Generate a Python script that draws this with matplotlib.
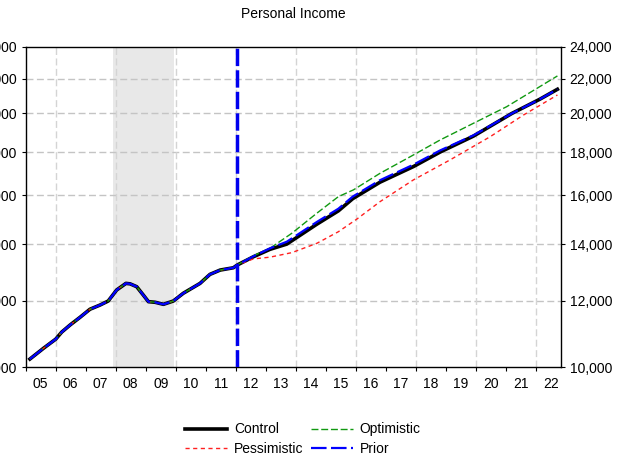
import numpy as np
import matplotlib
matplotlib.use("Agg")
from matplotlib import pyplot as plt
from matplotlib.ticker import FixedLocator, FuncFormatter, NullFormatter

plt.rcParams['font.family'] = ['Liberation Sans Narrow', 'Liberation Sans', 'DejaVu Sans']
plt.rcParams['font.size'] = 10

# history shared by all four series (decimal years, billions)
hist_t = [2005.14, 2005.59, 2006.0, 2006.2, 2006.48, 2006.81, 2007.14, 2007.48, 2007.75,
          2008.03, 2008.34, 2008.48, 2008.7, 2008.92, 2009.09, 2009.31, 2009.59, 2009.92,
          2010.25, 2010.81, 2011.14, 2011.48, 2011.92, 2012.05]
hist_v = [10229, 10532, 10800, 11010, 11226, 11463, 11718, 11855, 11985,
          12350, 12576, 12560, 12462, 12180, 11963, 11944, 11877, 11985,
          12240, 12576, 12889, 13042, 13124, 13223]

# forecasts from 2012
control_t = [2012.59, 2013.14, 2013.7, 2014.7, 2015.42, 2015.9, 2016.81, 2017.92, 2018.81,
             2019.92, 2021.2, 2022.14, 2022.72]
control_v = [13525, 13801, 14000, 14780, 15330, 15850, 16580, 17300, 18000,
             18800, 20000, 20800, 21366]

prior_t = control_t
prior_v = [13540, 13840, 14090, 14870, 15420, 15940, 16670, 17390, 18080,
           18840, 20000, 20800, 21366]

optim_t = [2012.59, 2013.14, 2013.87, 2014.7, 2015.42, 2015.92, 2016.81, 2017.92, 2018.81,
           2019.92, 2021.03, 2022.72]
optim_v = [13560, 13840, 14421, 15230, 15937, 16233, 16987, 17857, 18603,
           19471, 20375, 22159]

pessim_t = [2012.59, 2013.14, 2013.87, 2014.7, 2015.42, 2016.03, 2016.81, 2017.92, 2019.14,
            2020.48, 2021.59, 2022.72]
pessim_v = [13446, 13509, 13678, 14028, 14481, 14984, 15722, 16682, 17617,
            18772, 19917, 21036]

recession = (2007.9, 2009.93)
forecast_start = 2012.04
year_labels = ['05', '06', '07', '08', '09', '10', '11', '12', '13', '14', '15', '16',
               '17', '18', '19', '20', '21', '22']
y_ticks = [10000, 12000, 14000, 16000, 18000, 20000, 22000, 24000]


def series(ft, fv):
    return hist_t + list(ft), hist_v + list(fv)


fig = plt.figure(figsize=(6.18, 4.58), dpi=100)
ax = fig.add_axes([0.0416, 0.198, 0.8657, 0.700])

ax.axvspan(recession[0], recession[1], color='#e8e8e8', lw=0, zorder=0)

t, v = series(control_t, control_v)
ax.plot(t, v, color='black', lw=2.6, zorder=3, label='Control')
t, v = series(pessim_t, pessim_v)
ax.plot(t, v, color='#ff2020', lw=1.0, dashes=(3, 2.5), zorder=4, label='Pessimistic')
t, v = series(optim_t, optim_v)
ax.plot(t, v, color='#119911', lw=1.0, dashes=(5, 2), zorder=4, label='Optimistic')
t, v = series(prior_t, prior_v)
ax.plot(t, v, color='#0000ff', lw=1.6, dashes=(7, 2), zorder=5, label='Prior')

ax.axvline(forecast_start, color='#0000ee', lw=2.5, dashes=(5, 1.2), zorder=6)

ax.set_yscale('log')
ax.set_ylim(10000, 24000)
ax.set_xlim(2005.0, 2022.83)

ax.yaxis.set_major_locator(FixedLocator(y_ticks))
ax.yaxis.set_minor_locator(FixedLocator([]))
ax.yaxis.set_major_formatter(FuncFormatter(lambda x, p: '{:,.0f}'.format(x)))
ax.yaxis.set_minor_formatter(NullFormatter())
ax.tick_params(axis='y', which='major', left=True, right=True, labelleft=True,
               labelright=True, direction='out', length=3, width=0.8, pad=3.5, labelsize=10)

years = np.arange(2005, 2023)
ax.xaxis.set_major_locator(FixedLocator(years))
ax.xaxis.set_major_formatter(NullFormatter())
ax.xaxis.set_minor_locator(FixedLocator(years + 0.5))
ax.xaxis.set_minor_formatter(FuncFormatter(lambda x, p: year_labels[int(x - 2005)]))
ax.tick_params(axis='x', which='major', direction='out', length=3, width=0.8)
ax.tick_params(axis='x', which='minor', length=0, pad=7, labelsize=10)

for g in y_ticks[1:-1]:
    ax.axhline(g, color='#c4c4c4', lw=1.0, dashes=(5, 2.5), zorder=1)
for g in range(2006, 2023, 2):
    ax.axvline(g, color='#d4d4d4', lw=1.0, dashes=(5, 2.5), zorder=1)

for s in ax.spines.values():
    s.set_linewidth(1.0)
    s.set_color('black')

fig.text(0.474, 1 - 14 / 458, 'Personal Income', ha='center', va='center', fontsize=10)

h, l = ax.get_legend_handles_labels()
fig.legend(h, l, ncol=2, loc='center', bbox_to_anchor=(0.49, 0.041), frameon=False,
           handlelength=3.0, handletextpad=0.5, columnspacing=0.55, labelspacing=0.4,
           fontsize=10)

fig.savefig('out.png', dpi=100)
